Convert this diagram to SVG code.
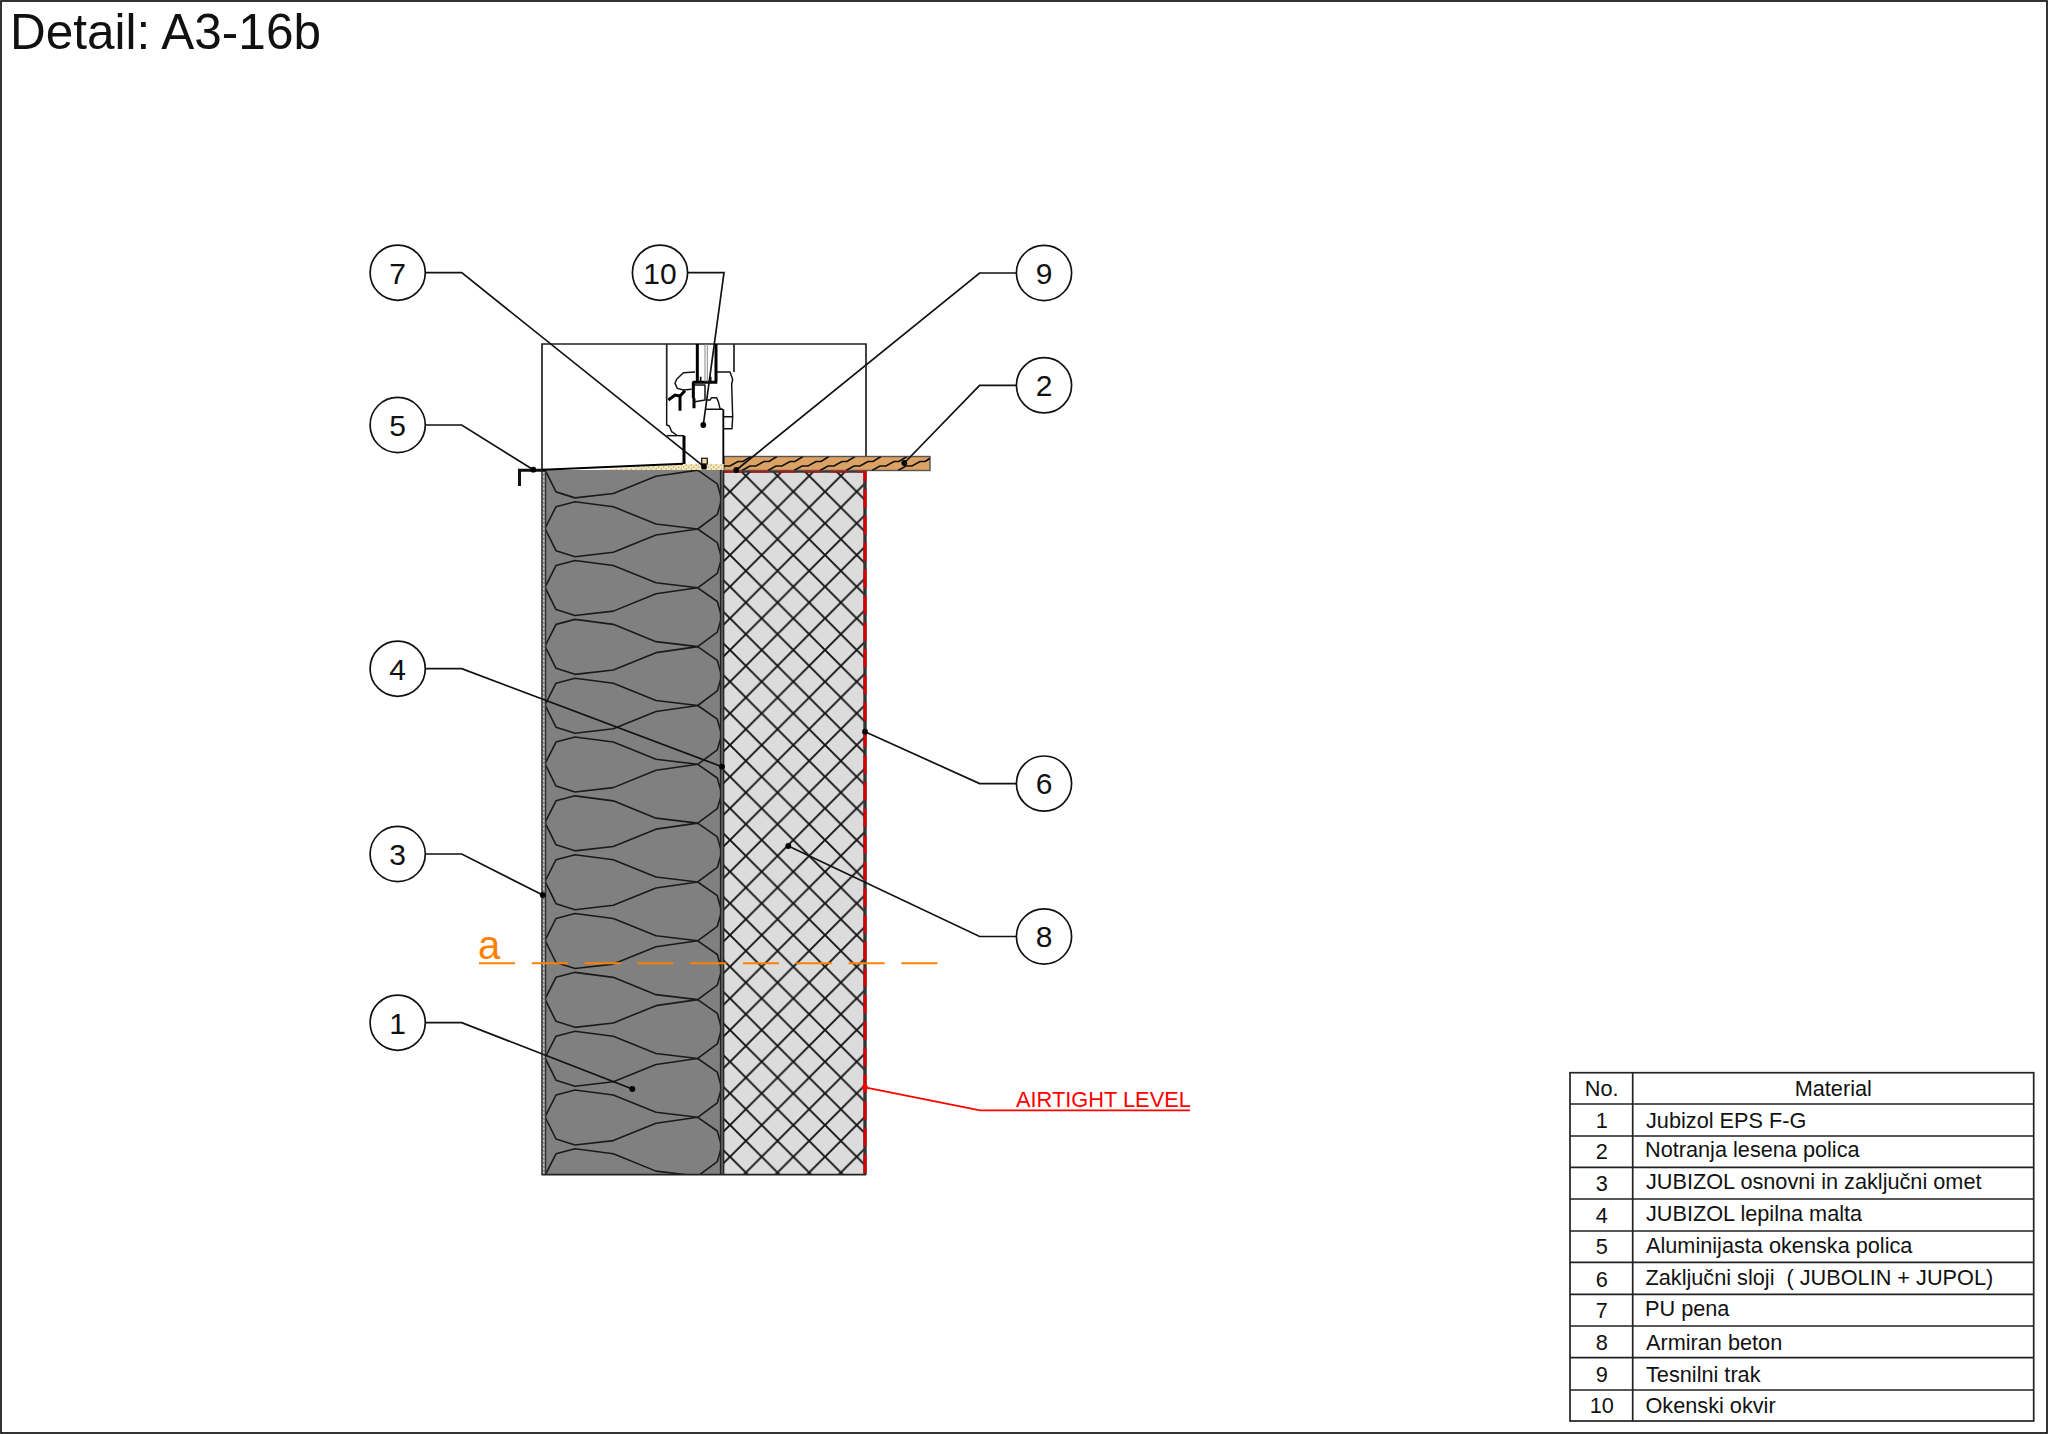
<svg xmlns="http://www.w3.org/2000/svg" xmlns:xlink="http://www.w3.org/1999/xlink" width="2048" height="1434" viewBox="0 0 2048 1434">
<style>
text{font-family:"Liberation Sans",Arial,sans-serif;fill:#111}
.num{font-size:30px;text-anchor:middle}
.cell{font-size:21.7px}
.cn{font-size:21.7px;text-anchor:middle}
.ring{fill:#fff;stroke:#111;stroke-width:1.7}
.lead{fill:none;stroke:#111;stroke-width:1.7}
.dot{fill:#000}
.grid{fill:none;stroke:#222;stroke-width:1.7}
.thin{fill:none;stroke:#111;stroke-width:4.4;stroke-linejoin:round}
.thick{fill:none;stroke:#000;stroke-width:9}
</style>
<defs>
<pattern id="hatch" patternUnits="userSpaceOnUse" x="761.67" y="491.67" width="31.67" height="31.67">
<path d="M0,0L31.67,31.67M31.67,0L0,31.67" stroke="#111" stroke-width="1.9" fill="none"/>
</pattern>
<pattern id="foam" patternUnits="userSpaceOnUse" width="5" height="4">
<rect width="5" height="4" fill="#f5e7b5"/><circle cx="1.2" cy="1" r=".55" fill="#666"/><circle cx="3.7" cy="3" r=".55" fill="#666"/>
</pattern>
<path id="cell" d="M545,-0.5L556,-22.3L575,-27.3L613.3,-22.3L656,-5L697.7,0L717.3,13.7L721.7,29.3L717.3,44.3L697.7,58.83M545,-0.5L556,21.7L575,27.7L613.3,23.3L656,6L697.7,0" fill="none" stroke="#1a1a1a" stroke-width="1.6" stroke-linejoin="round"/>
<path id="grain" d="M0,14L8,9.5L14,9.5L22,5L27,5L35,0" fill="none" stroke="#111" stroke-width="1.7"/>
<clipPath id="clipEps"><rect x="545" y="470" width="177" height="704.5"/></clipPath>
<clipPath id="clipWood"><rect x="724" y="456.5" width="206" height="14"/></clipPath>
</defs>
<rect width="2048" height="1434" fill="#fff"/>
<rect x="1" y="1" width="2046" height="1432" fill="none" stroke="#111" stroke-width="1.7"/>
<text x="10" y="49" font-size="49.5">Detail: A3-16b</text>

<g id="concrete">
<rect x="723.7" y="470" width="141" height="704.5" fill="#dcdcdc"/>
<rect x="723.7" y="470" width="141" height="704.5" fill="url(#hatch)"/>
</g>
<g id="insulation">
<rect x="545" y="470" width="176" height="704.5" fill="#808080"/>
<g clip-path="url(#clipEps)">
<use xlink:href="#cell" href="#cell" y="470.17"/><use xlink:href="#cell" href="#cell" y="529"/><use xlink:href="#cell" href="#cell" y="587.83"/><use xlink:href="#cell" href="#cell" y="646.66"/><use xlink:href="#cell" href="#cell" y="705.49"/><use xlink:href="#cell" href="#cell" y="764.32"/><use xlink:href="#cell" href="#cell" y="823.15"/><use xlink:href="#cell" href="#cell" y="881.98"/><use xlink:href="#cell" href="#cell" y="940.81"/><use xlink:href="#cell" href="#cell" y="999.64"/><use xlink:href="#cell" href="#cell" y="1058.47"/><use xlink:href="#cell" href="#cell" y="1117.3"/><use xlink:href="#cell" href="#cell" y="1176.13"/>
</g>
</g>
<g id="adhesive">
<rect x="720.5" y="470" width="3.2" height="704.5" fill="#5c5c5c"/>
<path d="M720.5,470V1174.5M723.7,470V1174.5" stroke="#222" stroke-width="1.3" fill="none"/>
</g>
<g id="plaster">
<rect x="542" y="470" width="3.5" height="704.5" fill="#c4c4c4"/>
<path d="M543.8,470V1174.5" stroke="#777" stroke-width="1.6" stroke-dasharray="1.6 2.4" fill="none"/>
<path d="M542,470V1174.5M545.5,470V1174.5" stroke="#333" stroke-width="1.6" fill="none"/>
</g>
<path id="wall-base" d="M541.5,1174.7H866" stroke="#222" stroke-width="1.8" fill="none"/>
<g id="airtight-layer">
<path d="M724,471H865V1175" fill="none" stroke="#333" stroke-width="3.4"/>
<path d="M724,471H865V1175" fill="none" stroke="#d80000" stroke-width="3" stroke-dasharray="18.3 8.3"/>
</g>
<g id="window-box">
<path d="M542,470V344H866V457" fill="none" stroke="#222" stroke-width="1.7"/>
<path d="M666.7,344V400M734,344V372" fill="none" stroke="#222" stroke-width="1.7"/>
</g>
<g id="shelf">
<rect x="724" y="456.5" width="206" height="14" fill="#dca264" stroke="#555" stroke-width="1.4"/>
<g clip-path="url(#clipWood)">
<use xlink:href="#grain" href="#grain" x="716" y="456.5"/><use xlink:href="#grain" href="#grain" x="742" y="456.5"/><use xlink:href="#grain" href="#grain" x="768" y="456.5"/><use xlink:href="#grain" href="#grain" x="794" y="456.5"/><use xlink:href="#grain" href="#grain" x="820" y="456.5"/><use xlink:href="#grain" href="#grain" x="846" y="456.5"/><use xlink:href="#grain" href="#grain" x="872" y="456.5"/><use xlink:href="#grain" href="#grain" x="898" y="456.5"/>
</g>
</g>
<g id="foam-seal">
<path d="M600,469.7L683,464H723.5V470H600Z" fill="url(#foam)"/>
<rect x="701.7" y="458.3" width="5.6" height="5.7" fill="#f2dfa0" stroke="#222" stroke-width="1.3"/>
</g>
<g id="sill">
<path d="M519.5,486V470.3H545" fill="none" stroke="#111" stroke-width="3"/>
<path d="M543,469.8L683,463.8" fill="none" stroke="#000" stroke-width="1.9"/>
</g>
<g id="window" transform="translate(500,320) scale(.33333)">
<path class="thin" d="M585,156L550,158L530,178L525,190L532,205L550,210L575,208"/>
<path class="thin" d="M650,156L690,156L698,178L695,192L698,290L696,326L672,326M672,290H697"/>
<path class="thin" d="M582,195H615V240L585,245"/>
<path class="thin" d="M615,268H668L660,265L655,245L650,233L635,233L630,240L618,240"/>
<path class="thin" d="M500,240V315L508,318L515,335L530,345"/>
<path class="thin" d="M500,347H552"/>
<path class="thick" d="M592,72V185M648,72V185M578,187H652"/>
<path class="thick" d="M580,185V235M582,235V265M505,240L525,225L540,228L555,212M540,225V272M552,347V432"/>
<path d="M670,268V432" fill="none" stroke="#000" stroke-width="5.5"/>
<path d="M615,72V185M622,72V185" fill="none" stroke="#888" stroke-width="3"/>
<path d="M602,170V185M632,170V185" fill="none" stroke="#000" stroke-width="5"/>
</g>

<g id="connectors">
<path class="lead" d="M425.4,272.7H461.7L704,466.7"/>
<path class="lead" d="M687.7,272.7H724L703.3,425"/>
<path class="lead" d="M1016,273H979.6L736.3,470"/>
<path class="lead" d="M1016,385.3H979.6L904.3,463"/>
<path class="lead" d="M425.4,425H461.7L533.3,469.7"/>
<path class="lead" d="M425.4,668.7H461.7L722,766.7"/>
<path class="lead" d="M1016,783.6H979.6L865,731.7"/>
<path class="lead" d="M425.4,854H461.7L542.7,895"/>
<path class="lead" d="M1016,936.5H979.6L788.3,846"/>
<path class="lead" d="M425.4,1022.7H461.7L632.3,1089"/>
<circle class="dot" cx="704" cy="466.7" r="2.9"/><circle class="dot" cx="703.3" cy="425" r="2.9"/><circle class="dot" cx="736.3" cy="470" r="2.9"/><circle class="dot" cx="904.3" cy="463" r="2.9"/><circle class="dot" cx="533.3" cy="469.7" r="2.9"/><circle class="dot" cx="722" cy="766.7" r="2.9"/><circle class="dot" cx="865" cy="731.7" r="2.9"/><circle class="dot" cx="542.7" cy="895" r="2.9"/><circle class="dot" cx="788.3" cy="846" r="2.9"/><circle class="dot" cx="632.3" cy="1089" r="2.9"/>
<path d="M865,1087.3L980,1110.3H1190" fill="none" stroke="#f00" stroke-width="1.7"/>
<circle cx="865" cy="1087.3" r="2.9" fill="#f00"/>
<path d="M479,963.3H938" fill="none" stroke="#ff8000" stroke-width="2" stroke-dasharray="36 16.8"/>
</g>

<g id="n7"><circle class="ring" cx="397.7" cy="272.7" r="27.6"/><text class="num" x="397.7" y="283.5">7</text></g>
<g id="n10"><circle class="ring" cx="660" cy="272.7" r="27.6"/><text class="num" x="660" y="283.5">10</text></g>
<g id="n9"><circle class="ring" cx="1044" cy="273" r="27.6"/><text class="num" x="1044" y="283.8">9</text></g>
<g id="n2"><circle class="ring" cx="1044" cy="385.3" r="27.6"/><text class="num" x="1044" y="396.1">2</text></g>
<g id="n5"><circle class="ring" cx="397.7" cy="425" r="27.6"/><text class="num" x="397.7" y="435.8">5</text></g>
<g id="n4"><circle class="ring" cx="397.7" cy="668.7" r="27.6"/><text class="num" x="397.7" y="679.5">4</text></g>
<g id="n6"><circle class="ring" cx="1044" cy="783.6" r="27.6"/><text class="num" x="1044" y="794.4">6</text></g>
<g id="n3"><circle class="ring" cx="397.7" cy="854" r="27.6"/><text class="num" x="397.7" y="864.8">3</text></g>
<g id="n8"><circle class="ring" cx="1044" cy="936.5" r="27.6"/><text class="num" x="1044" y="947.3">8</text></g>
<g id="n1"><circle class="ring" cx="397.7" cy="1022.7" r="27.6"/><text class="num" x="397.7" y="1033.5">1</text></g>
<text x="1016" y="1107.3" font-size="21.8" style="fill:#f00">AIRTIGHT LEVEL</text>
<text x="478" y="959.3" font-size="40" style="fill:#ff8000">a</text>

<g id="legend">
<rect class="grid" x="1570" y="1072.7" width="463.7" height="348.3"/>
<path class="grid" d="M1632.7,1072.7V1421M1570,1104H2033.7M1570,1136H2033.7M1570,1167.3H2033.7M1570,1199H2033.7M1570,1231H2033.7M1570,1262.3H2033.7M1570,1294.3H2033.7M1570,1326H2033.7M1570,1357.7H2033.7M1570,1390H2033.7"/>
<text class="cn" x="1601.7" y="1096">No.</text><text class="cn" x="1833.3" y="1096">Material</text>
<text class="cn" x="1601.7" y="1128.3">1</text><text class="cell" x="1646" y="1128.3">Jubizol EPS F-G</text>
<text class="cn" x="1601.7" y="1159.3">2</text><text class="cell" x="1645" y="1157.3">Notranja lesena polica</text>
<text class="cn" x="1601.7" y="1190.7">3</text><text class="cell" x="1646" y="1189">JUBIZOL osnovni in zaključni omet</text>
<text class="cn" x="1601.7" y="1222.7">4</text><text class="cell" x="1646" y="1221">JUBIZOL lepilna malta</text>
<text class="cn" x="1601.7" y="1254.3">5</text><text class="cell" x="1646" y="1252.7">Aluminijasta okenska polica</text>
<text class="cn" x="1601.7" y="1286.7">6</text><text class="cell" x="1645.5" y="1285" xml:space="preserve">Zaključni sloji  ( JUBOLIN + JUPOL)</text>
<text class="cn" x="1601.7" y="1317.7">7</text><text class="cell" x="1645" y="1316">PU pena</text>
<text class="cn" x="1601.7" y="1350">8</text><text class="cell" x="1646" y="1350">Armiran beton</text>
<text class="cn" x="1601.7" y="1381.7">9</text><text class="cell" x="1646" y="1381.7">Tesnilni trak</text>
<text class="cn" x="1601.7" y="1413">10</text><text class="cell" x="1645.5" y="1413">Okenski okvir</text>
</g>
</svg>
